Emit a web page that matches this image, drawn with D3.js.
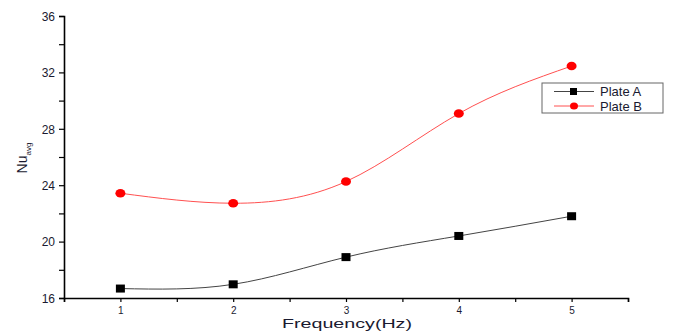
<!DOCTYPE html>
<meta charset="utf-8">
<head>
<style>
body { margin: 0; background: #fff; }
text { font-family: Arial, "Liberation Sans", sans-serif; fill: #1a1a30; }
</style>
</head>
<body>
<script src="https://d3js.org/d3.v7.min.js"></script>
<script>

var freq = [1, 2, 3, 4, 5];
var plateA = [16.67, 16.97, 18.9, 20.4, 21.8];
var plateB = [23.43, 22.72, 24.26, 29.08, 32.45];
var yTicks = [16, 20, 24, 28, 32, 36];
var xTicks = [1, 2, 3, 4, 5];

var width = 673, height = 332;

var x = d3.scaleLinear().domain([0.5, 5.5]).range([64, 628]);
var y = d3.scaleLinear().domain([16, 36]).range([298, 16]);

var svg = d3.select("body").append("svg")
    .attr("width", width)
    .attr("height", height);

// axes
var xAxis = svg.append("g")
    .attr("transform", "translate(0," + y(16) + ")")
    .call(d3.axisBottom(x).tickValues(d3.range(0.5, 5.51, 0.5)).tickSize(4).tickFormat(""));
xAxis.selectAll(".tick text").remove();
xAxis.selectAll(".tick")
    .filter(function(d) { return xTicks.indexOf(d) >= 0; })
    .append("text")
    .attr("y", 16)
    .attr("text-anchor", "middle")
    .style("font-size", "10px")
    .text(function(d) { return d; });

var yAxis = svg.append("g")
    .attr("transform", "translate(" + x(0.5) + ",0)")
    .call(d3.axisLeft(y).tickValues(d3.range(16, 36.1, 2)).tickSize(5).tickFormat(""));
yAxis.selectAll(".tick")
    .filter(function(d) { return yTicks.indexOf(d) >= 0; })
    .append("text")
    .attr("x", -9)
    .attr("dy", "0.35em")
    .attr("text-anchor", "end")
    .style("font-size", "12px")
    .text(function(d) { return d; });

svg.selectAll(".domain").attr("stroke", "#000").attr("stroke-width", 1.6);
svg.selectAll(".tick line").attr("stroke", "#000").attr("stroke-width", 1.2);

// axis titles
svg.append("text")
    .attr("x", 347)
    .attr("y", 328)
    .attr("text-anchor", "middle")
    .attr("textLength", 130)
    .attr("lengthAdjust", "spacingAndGlyphs")
    .style("font-size", "13px")
    .text("Frequency(Hz)");

var yt = svg.append("text")
    .attr("transform", "translate(27,158) rotate(-90)")
    .attr("text-anchor", "middle")
    .style("font-size", "14px");
yt.append("tspan").text("Nu");
yt.append("tspan").attr("dy", 4).style("font-size", "8px").text("avg");

// series
var line = d3.line().curve(d3.curveNatural)
    .x(function(d) { return x(d[0]); })
    .y(function(d) { return y(d[1]); });

var dataA = freq.map(function(f, i) { return [f, plateA[i]]; });
var dataB = freq.map(function(f, i) { return [f, plateB[i]]; });

svg.append("path").datum(dataA)
    .attr("fill", "none").attr("stroke", "#444").attr("stroke-width", 1)
    .attr("d", line);
svg.append("path").datum(dataB)
    .attr("fill", "none").attr("stroke", "#ff5050").attr("stroke-width", 1)
    .attr("d", line);

svg.selectAll(".sq").data(dataA).enter().append("rect")
    .attr("x", function(d) { return x(d[0]) - 4.5; })
    .attr("y", function(d) { return y(d[1]) - 4; })
    .attr("width", 9).attr("height", 8)
    .attr("fill", "#000");

svg.selectAll(".dot").data(dataB).enter().append("ellipse")
    .attr("cx", function(d) { return x(d[0]); })
    .attr("cy", function(d) { return y(d[1]); })
    .attr("rx", 5).attr("ry", 4.3)
    .attr("fill", "#ff0000");

// legend
var lg = svg.append("g").attr("transform", "translate(542,83)");
lg.append("rect")
    .attr("width", 121).attr("height", 30)
    .attr("fill", "#fff").attr("stroke", "#666").attr("stroke-width", 1);
var items = [
  { name: "Plate A", color: "#444", mark: "sq" },
  { name: "Plate B", color: "#ff5050", mark: "dot" }
];
items.forEach(function(it, i) {
  var cy = 8.5 + i * 14.5;
  lg.append("line")
    .attr("x1", 12).attr("x2", 52).attr("y1", cy).attr("y2", cy)
    .attr("stroke", it.color).attr("stroke-width", 1);
  if (it.mark === "sq") {
    lg.append("rect").attr("x", 28).attr("y", cy - 3.5).attr("width", 7).attr("height", 7).attr("fill", "#000");
  } else {
    lg.append("ellipse").attr("cx", 32).attr("cy", cy).attr("rx", 4).attr("ry", 3.5).attr("fill", "#ff0000");
  }
  lg.append("text")
    .attr("x", 58).attr("y", cy).attr("dy", "0.35em")
    .style("font-size", "13px")
    .text(it.name);
});

</script>
</body>
